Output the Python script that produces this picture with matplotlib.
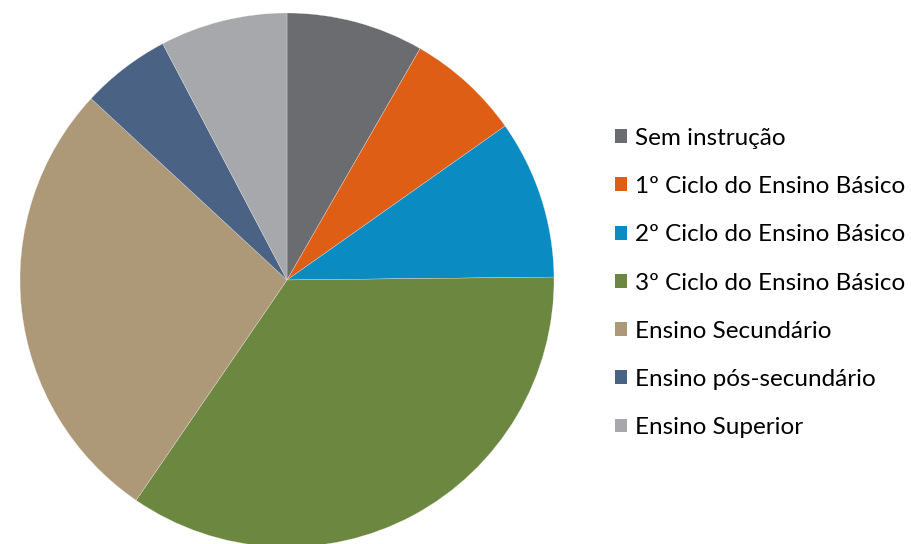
import matplotlib.pyplot as plt
from matplotlib.patches import Patch

categories = [
    "Sem instrução",
    "1º Ciclo do Ensino Básico",
    "2º Ciclo do Ensino Básico",
    "3º Ciclo do Ensino Básico",
    "Ensino Secundário",
    "Ensino pós-secundário",
    "Ensino Superior",
]
shares = [8.3, 6.9, 9.6, 34.7, 27.3, 5.4, 7.7]
colors = ["#6B6C70", "#DF5E16", "#0A8CC2", "#6C8840", "#AD9878", "#4A6283", "#A7A8AB"]

plt.rcParams['font.family'] = ['Lato', 'DejaVu Sans']


def main():
    fig = plt.figure(figsize=(9.12, 5.44), dpi=100)
    cx, cy, r = 287, 280, 267
    ax = fig.add_axes([(cx - r) / 912, (544 - cy - r) / 544, 2 * r / 912, 2 * r / 544])
    ax.pie(shares, colors=colors, startangle=90, counterclock=False,
           radius=1.0, wedgeprops=dict(edgecolor="#eeeeee", linewidth=0.2))
    ax.set_xlim(-1, 1)
    ax.set_ylim(-1, 1)
    ax.set_aspect("equal")
    ax.axis("off")

    handles = [Patch(facecolor=c, edgecolor="none") for c in colors]
    fig.legend(handles, categories, loc="center left", bbox_to_anchor=(615 / 912, 1 - 283 / 544),
               frameon=False, fontsize=17.5, handlelength=0.5, handleheight=0.5,
               handletextpad=0.33, labelspacing=1.12, borderpad=0, borderaxespad=0)
    fig.savefig("out.png", dpi=100)


if __name__ == '__main__':
    main()
